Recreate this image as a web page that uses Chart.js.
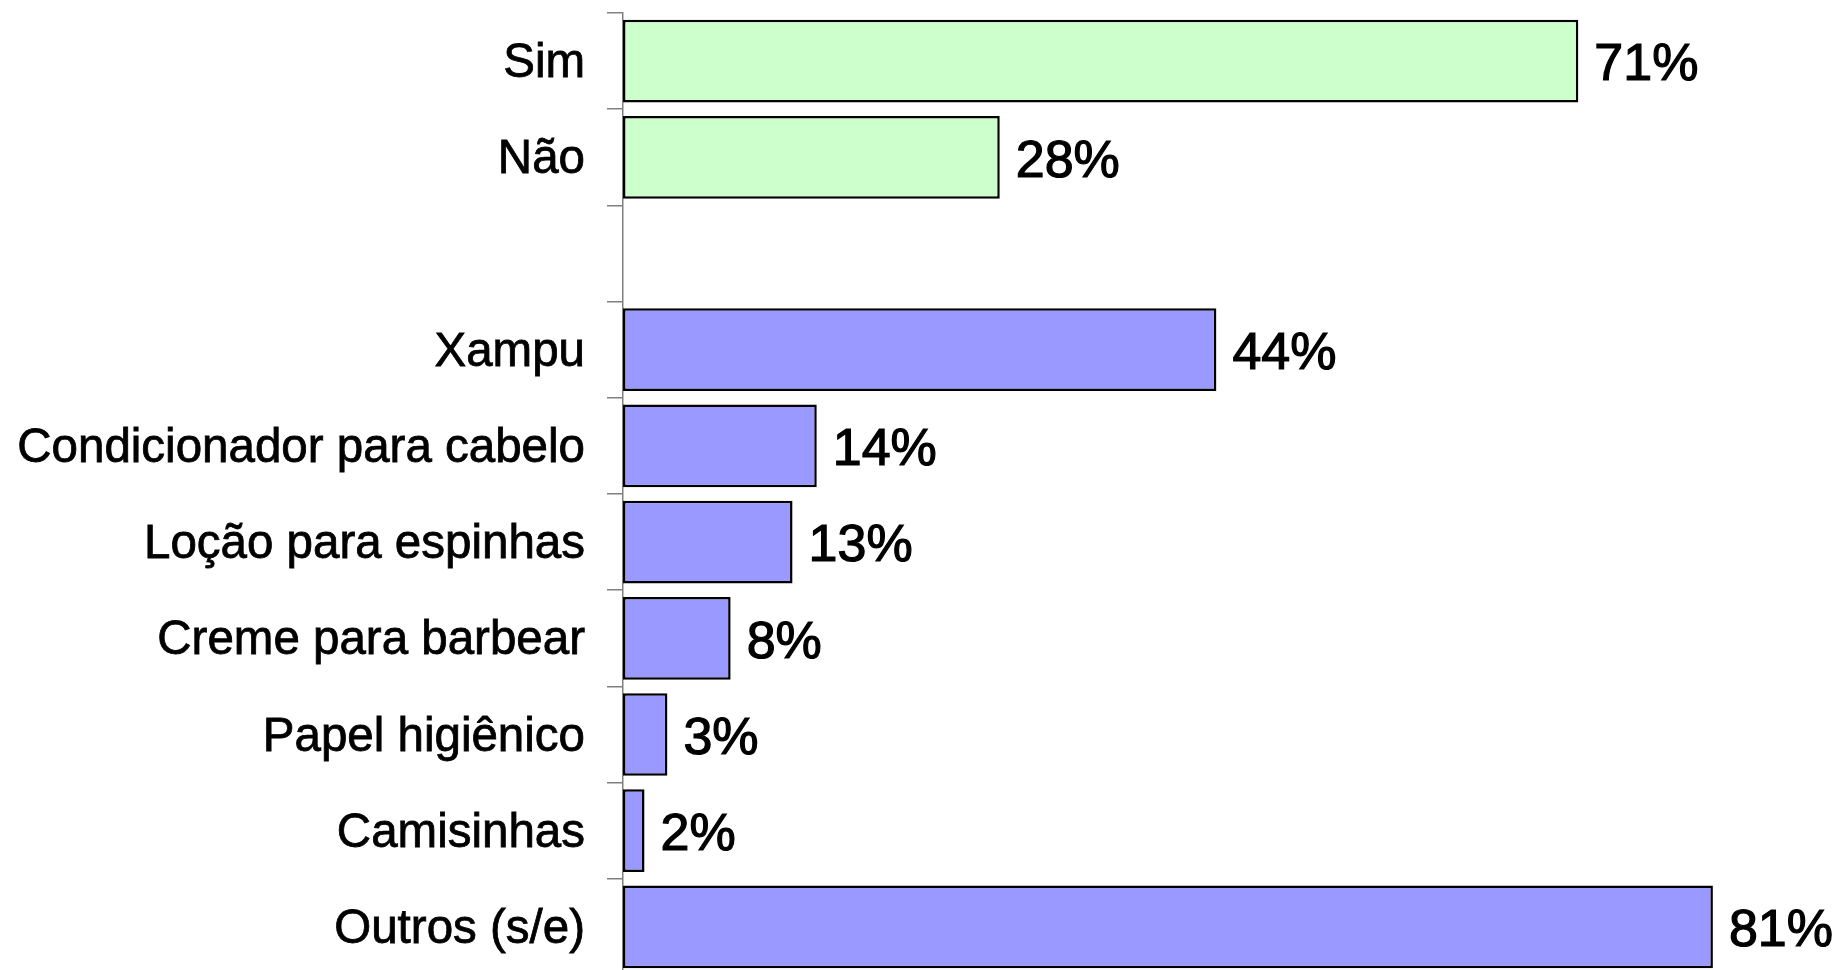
<!DOCTYPE html>
<html>
<head>
<meta charset="utf-8">
<script src="https://cdn.jsdelivr.net/npm/chart.js@4"></script>
<style>
    html, body { margin: 0; padding: 0; background: #fff; overflow: hidden; }
    #wrap { width: 1841px; height: 980px; }
</style>
</head>
<body>
<div id="wrap"><canvas id="barChart" width="1841" height="980"></canvas></div>
<script>
// data
const categories = ["Sim", "Não", "", "Xampu", "Condicionador para cabelo", "Loção para espinhas",
                    "Creme para barbear", "Papel higiênico", "Camisinhas", "Outros (s/e)"];
const values = [71, 28, null, 44.1, 14.4, 12.6, 8, 3.3, 1.6, 81];
const groups = ["answer", "answer", null, "item", "item", "item", "item", "item", "item", "item"];

const groupColors = { answer: "#CCFFCC", item: "#9999FF" };
const FONT = "'Liberation Sans', Arial, sans-serif";

// value labels to the right of each bar
const valueLabels = {
    id: "valueLabels",
    afterDatasetsDraw(chart) {
        const ctx = chart.ctx;
        const meta = chart.getDatasetMeta(0);
        ctx.save();
        ctx.font = "52px " + FONT;
        ctx.fillStyle = "#000";
        ctx.strokeStyle = "#000";
        ctx.lineWidth = 1.2;
        ctx.textAlign = "left";
        ctx.textBaseline = "middle";
        meta.data.forEach((bar, i) => {
            if (values[i] == null) return;
            const txt = Math.round(values[i]) + "%";
            ctx.fillText(txt, bar.x + 16, bar.y + 5);
            ctx.strokeText(txt, bar.x + 16, bar.y + 5);
        });
        ctx.restore();
    }
};

new Chart(document.getElementById("barChart").getContext("2d"), {
    type: "bar",
    data: {
        labels: categories,
        datasets: [{
            data: values,
            backgroundColor: groups.map(g => g ? groupColors[g] : "transparent"),
            borderColor: "#000",
            borderWidth: 2.5,
            borderSkipped: false,
            barPercentage: 0.86,
            categoryPercentage: 1.0
        }]
    },
    options: {
        indexAxis: "y",
        responsive: false,
        animation: false,
        layout: { padding: { top: 13, right: 7, bottom: 5, left: 0 } },
        plugins: { legend: { display: false }, tooltip: { enabled: false } },
        scales: {
            x: { display: false, min: 0, max: 90 },
            y: {
                afterFit(scale) {
                    scale.width = 623;
                    scale.paddingTop = 0;
                    scale.paddingBottom = 0;
                },
                grid: {
                    offset: true,
                    drawOnChartArea: false,
                    drawTicks: true,
                    tickLength: 16,
                    color: "#808080",
                    lineWidth: 1.5
                },
                border: { display: true, color: "#808080", width: 1.5 },
                ticks: {
                    color: "#000",
                    padding: 22,
                    labelOffset: 3,
                    textStrokeColor: "#000",
                    textStrokeWidth: 0.8,
                    font: { family: FONT, size: 47.5 }
                }
            }
        }
    },
    plugins: [valueLabels]
});
</script>
</body>
</html>
